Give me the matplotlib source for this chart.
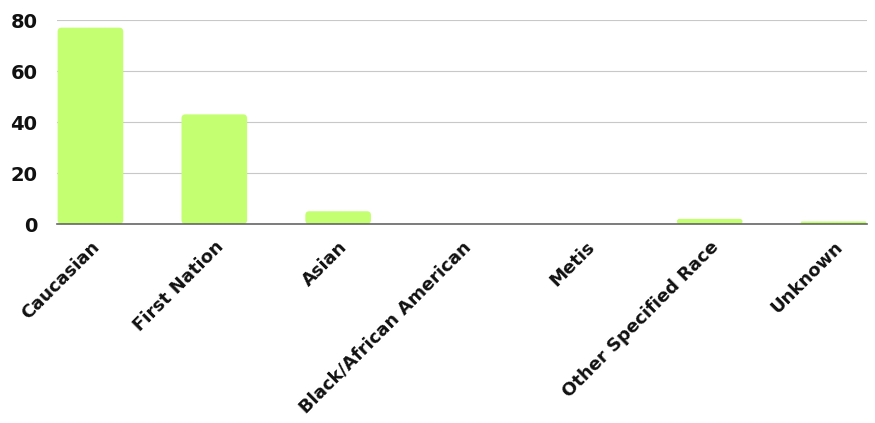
import matplotlib.pyplot as plt
from matplotlib.patches import FancyBboxPatch

# Data
categories = ["Caucasian", "First Nation", "Asian", "Black/African American",
              "Metis", "Other Specified Race", "Unknown"]
counts = [77, 43, 5, 0, 0, 2, 1]
yticks = [0, 20, 40, 60, 80]

bar_color = "#c4ff72"

plt.rcParams['font.family'] = ['DejaVu Sans']

fig = plt.figure(figsize=(8.75, 4.23), dpi=100)
ax = fig.add_axes([57 / 875, 1 - 224 / 423, 810 / 875, 204 / 423])

ax.set_xlim(-0.27, 6.27)
ax.set_ylim(0, 80)

bars = ax.bar(range(len(categories)), counts, width=0.53, color=bar_color, zorder=3)

# pixels per data unit, used to make round corners look circular
fig.canvas.draw()
p0 = ax.transData.transform((0, 0))
p1 = ax.transData.transform((1, 1))
aspect = (p1[0] - p0[0]) / (p1[1] - p0[1])

# swap plain bars for rounded-top ones
for b in bars:
    x, y = b.get_x(), b.get_y()
    w, h = b.get_width(), b.get_height()
    b.set_visible(False)
    if h <= 0:
        continue
    r = 4 / (p1[0] - p0[0])  # ~4 px radius
    r = min(r, h / aspect / 2)
    patch = FancyBboxPatch((x, y), w, h, boxstyle=f"round,pad=0,rounding_size={r}",
                           mutation_aspect=aspect,
                           facecolor=bar_color, edgecolor="none", zorder=3)
    ax.add_patch(patch)

ax.set_yticks(yticks)
ax.set_xticks(range(len(categories)))
ax.set_xticklabels(categories, rotation=45, ha="right", rotation_mode="anchor",
                   fontsize=13, fontweight="bold")
for lbl in ax.get_yticklabels():
    lbl.set_fontsize(14)
    lbl.set_fontweight("bold")

ax.grid(axis="y", color="#c8c8c8", linewidth=0.8, zorder=0)
ax.tick_params(length=0)
ax.tick_params(axis="y", pad=14, colors="#111111")
ax.tick_params(axis="x", pad=10, colors="#111111")
for s in ["top", "right", "left"]:
    ax.spines[s].set_visible(False)
ax.spines["bottom"].set_color("#666666")
ax.spines["bottom"].set_linewidth(1.2)
ax.spines["bottom"].set_zorder(4)

fig.savefig("out.png", dpi=100)
